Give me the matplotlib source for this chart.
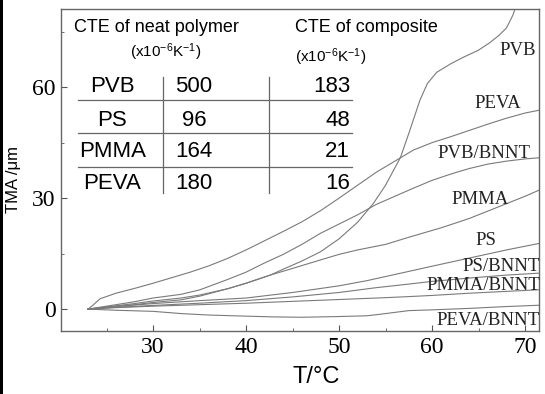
import matplotlib
matplotlib.use("Agg")
import matplotlib.pyplot as plt
from matplotlib.patches import Rectangle
from matplotlib.ticker import MultipleLocator

plt.rcParams['mathtext.fontset'] = 'custom'
plt.rcParams['mathtext.rm'] = 'Liberation Sans'
plt.rcParams['mathtext.it'] = 'Liberation Sans:italic'

# ---- data ----
pvb_x = [23, 25, 28, 30, 33, 35, 38, 40, 42.6, 44, 46, 48, 50, 52, 53.7, 55, 56.6, 57.5, 58.7,
         59.5, 60.5, 62, 63.3, 65, 66.2, 67.2, 68, 68.7, 69.3]
pvb_y = [0, 0.5, 1.2, 1.8, 2.5, 3.5, 5.5, 7, 9.2, 10.8, 13, 15.5, 19, 23.5, 28.6, 33.5, 41, 47.5, 56.5,
         61, 64, 66.3, 68, 70, 72, 74, 76, 79.5, 84]

peva_x = [23, 23.5, 24.3, 26, 28, 30, 32, 34, 36, 38, 40, 42, 44, 46, 48, 50, 52, 54, 56, 58,
          60, 62, 64, 66, 68, 70, 72]
peva_y = [0, 1, 2.8, 4.3, 5.6, 7, 8.5, 10, 11.7, 13.7, 16, 18.5, 21, 23.6, 26.6, 30, 33.5, 37, 40, 43,
          45, 46.6, 48.3, 50, 51.6, 53, 54]

pvbbn_x = [23, 25, 28, 30, 33, 35, 38, 40, 42, 44, 46, 48, 50, 52, 54, 56, 58, 60, 62, 64, 66, 68, 70, 72]
pvbbn_y = [0, 0.8, 2, 3, 4, 5.2, 8, 10, 12.5, 14.8, 17.5, 20.5, 23, 25.5, 28.3, 30.5, 32.7, 34.8, 36.5,
           38, 39.2, 40, 40.6, 41]

pmma_x = [23, 25, 28, 30, 33, 35, 38, 40, 42.6, 45, 48, 50, 52, 55, 57.6, 61, 64, 67, 70, 72]
pmma_y = [0, 0.6, 1.5, 2.2, 3, 3.8, 5.5, 7, 9.2, 11, 13.3, 14.8, 16, 17.5, 19.5, 22, 24.5, 27.5, 30.5, 32.7]

ps_x = [23, 26, 30, 35, 40, 45, 50, 53, 56.6, 60, 64, 68, 72]
ps_y = [0, 0.7, 1.5, 2.3, 3, 4.5, 6.3, 7.7, 9.7, 11.6, 13.8, 16, 18]

psbn_x = [23, 26, 30, 35, 40, 45, 50, 54, 57.6, 60, 64, 68, 72]
psbn_y = [0, 0.5, 1, 1.6, 2.3, 3.3, 4.5, 5.8, 6.8, 7.5, 8.4, 9.2, 9.8]

pmmabn_x = [23, 26, 30, 35, 40, 45, 50, 55, 57.6, 60, 64, 68, 72]
pmmabn_y = [0, 0.4, 0.8, 1.2, 1.6, 2.1, 2.6, 3.1, 3.4, 3.7, 4.3, 4.8, 5.3]

pevabn_x = [23, 26, 30, 33, 36, 40, 43, 46, 50, 53, 55, 57.5, 60, 64, 68, 72]
pevabn_y = [0, -0.3, -0.6, -1.2, -1.6, -1.9, -2.1, -2.2, -2.0, -1.8, -1.2, -0.4, -0.2, 0.2, 0.7, 1.1]

series = [
    ("PVB", pvb_x, pvb_y, (69.25, 70)),
    ("PEVA", peva_x, peva_y, (67.1, 55.7)),
    ("PVB/BNNT", pvbbn_x, pvbbn_y, (65.6, 42)),
    ("PMMA", pmma_x, pmma_y, (65.2, 29.7)),
    ("PS", ps_x, ps_y, (65.8, 18.6)),
    ("PS/BNNT", psbn_x, psbn_y, (67.4, 11.4)),
    ("PMMA/BNNT", pmmabn_x, pmmabn_y, (65.5, 6.5)),
    ("PEVA/BNNT", pevabn_x, pevabn_y, (66.0, -3.0)),
]

table_polymers = ["PVB", "PS", "PMMA", "PEVA"]
cte_neat = ["500", "96", "164", "180"]
cte_comp = ["183", "48", "21", "16"]

x_ticks = [30, 40, 50, 60, 70]
y_ticks = [0, 30, 60]

# ---- figure ----
fig = plt.figure(figsize=(5.45, 3.94), dpi=100)
ax = fig.add_axes([0.112, 0.160, 0.877, 0.817])

for name, xs, ys, lp in series:
    ax.plot(xs, ys, color='#7a7a7a', lw=0.8)
    ax.text(lp[0], lp[1], name, ha='center', va='center', fontsize=13.5,
            family='Liberation Serif', color='#222222')

ax.set_xlim(20.1, 71.5)
ax.set_ylim(-5.9, 81.1)
ax.set_xticks(x_ticks)
ax.set_yticks(y_ticks)
ax.xaxis.set_minor_locator(MultipleLocator(5))
ax.yaxis.set_minor_locator(MultipleLocator(15))
ax.tick_params(which='both', direction='in', top=False, right=False, color='#555555')
ax.tick_params(which='major', length=4, labelsize=17, pad=4)
ax.tick_params(which='minor', length=2.5)
for lab in ax.get_xticklabels() + ax.get_yticklabels():
    lab.set_family('Liberation Serif')
for sp in ax.spines.values():
    sp.set_color('#666666')
    sp.set_linewidth(1.0)

ax.set_xlabel("T/°C", family='Liberation Sans', fontsize=17)
ax.xaxis.set_label_coords(0.533, -0.108)
ax.set_ylabel("TMA /μm", family='Liberation Sans', fontsize=12)
ax.yaxis.set_label_coords(-0.084, 0.469)

# ---- inset table ----
T = ax.transAxes
sans = 'Liberation Sans'
ax.text(0.199, 0.944, "CTE of neat polymer", transform=T, ha='center', va='center',
        fontsize=13, family=sans)
ax.text(0.218, 0.866, r"(x10$^{\mathregular{-6}}$K$^{\mathregular{-1}}$)", transform=T,
        ha='center', va='center', fontsize=11, family=sans)
ax.text(0.490, 0.944, "CTE of composite", transform=T, ha='left', va='center',
        fontsize=13, family=sans)
ax.text(0.490, 0.851, r"(x10$^{\mathregular{-6}}$K$^{\mathregular{-1}}$)", transform=T,
        ha='left', va='center', fontsize=11, family=sans)

row_y = [0.758, 0.655, 0.556, 0.457]
for i, (p, a, b) in enumerate(zip(table_polymers, cte_neat, cte_comp)):
    ax.text(0.107, row_y[i], p, transform=T, ha='center', va='center', fontsize=16, family=sans)
    ax.text(0.278, row_y[i], a, transform=T, ha='center', va='center', fontsize=16, family=sans)
    ax.text(0.605, row_y[i], b, transform=T, ha='right', va='center', fontsize=16, family=sans)

for hy in [0.717, 0.615, 0.509]:
    ax.plot([0.036, 0.609], [hy, hy], transform=T, color='#666666', lw=0.9)
for vx in [0.213, 0.435]:
    ax.plot([vx, vx], [0.429, 0.789], transform=T, color='#666666', lw=0.9)

# black strip on the left edge of the picture
fig.patches.append(Rectangle((0, 0), 3 / 545, 1, transform=fig.transFigure,
                             facecolor='black', edgecolor='none'))

fig.savefig("out.png", dpi=100)
